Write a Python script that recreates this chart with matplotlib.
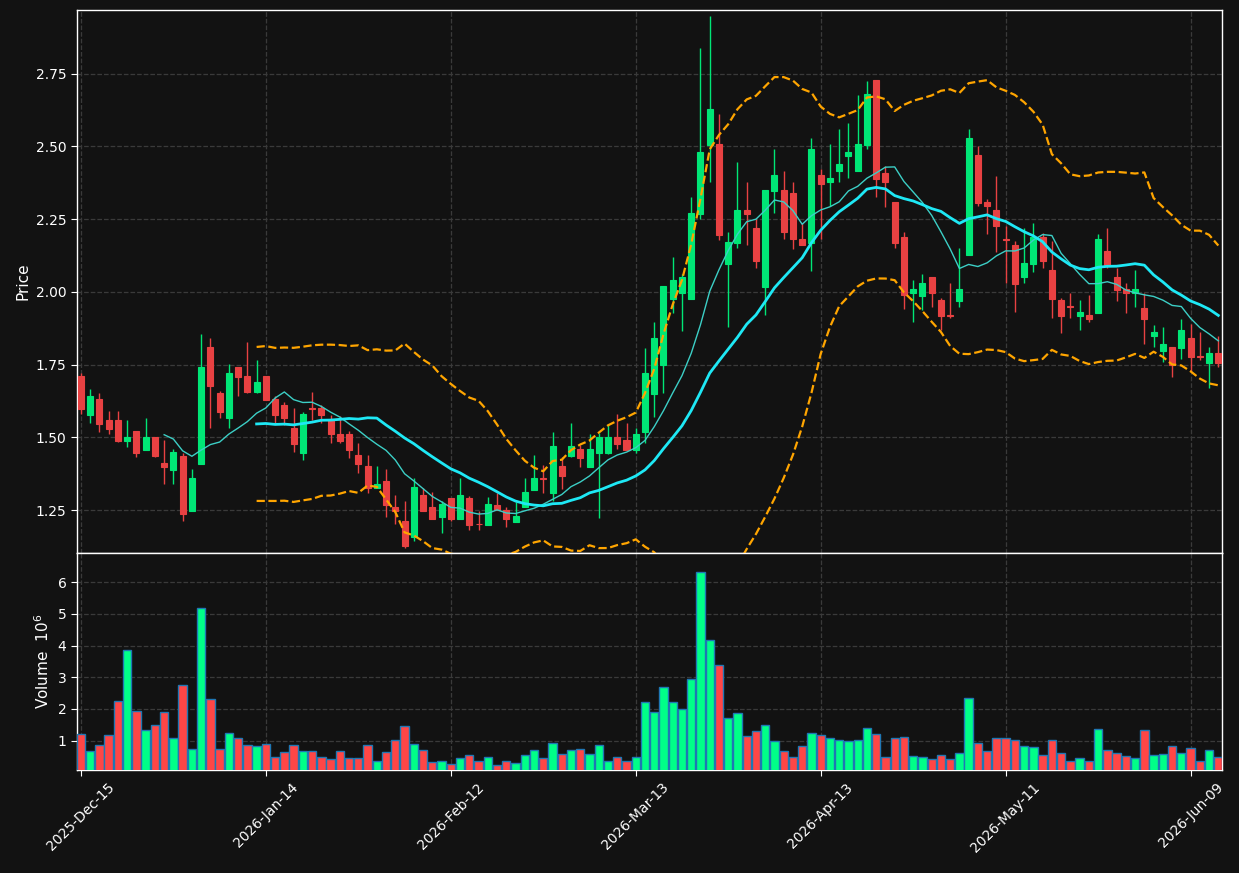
import numpy as np
import pandas as pd
import matplotlib
matplotlib.use("Agg")
import matplotlib.pyplot as plt
from matplotlib.ticker import FixedLocator, FuncFormatter

# --- data ---
holidays = ["2025-12-25", "2026-01-01", "2026-01-19", "2026-02-16", "2026-04-03", "2026-05-25"]

opens = [1.711, 1.577, 1.632, 1.559, 1.559, 1.488, 1.522, 1.457, 1.501, 1.412,
         1.389, 1.437, 1.248, 1.409, 1.809, 1.651, 1.567, 1.742, 1.711, 1.657,
         1.711, 1.631, 1.611, 1.532, 1.447, 1.600, 1.602, 1.560, 1.511, 1.511,
         1.439, 1.401, 1.327, 1.350, 1.260, 1.212, 1.158, 1.302, 1.260, 1.227,
         1.291, 1.219, 1.291, 1.203, 1.199, 1.269, 1.250, 1.210, 1.259, 1.319,
         1.360, 1.310, 1.401, 1.436, 1.459, 1.399, 1.447, 1.447, 1.501, 1.490,
         1.456, 1.519, 1.649, 1.749, 1.976, 1.997, 1.977, 2.268, 2.505, 2.509,
         2.096, 2.169, 2.282, 2.219, 2.018, 2.348, 2.349, 2.340, 2.181, 2.169,
         2.402, 2.379, 2.417, 2.468, 2.417, 2.505, 2.729, 2.408, 2.308, 2.188,
         1.997, 1.986, 2.050, 1.972, 1.921, 1.970, 2.128, 2.471, 2.308, 2.282,
         2.182, 2.161, 2.050, 2.096, 2.190, 2.075, 1.972, 1.950, 1.917, 1.921,
         1.929, 2.142, 2.052, 2.009, 1.997, 1.945, 1.848, 1.797, 1.809, 1.808,
         1.840, 1.778, 1.757, 1.789]
highs = [1.722, 1.666, 1.651, 1.590, 1.590, 1.559, 1.522, 1.565, 1.501, 1.490,
         1.459, 1.445, 1.390, 1.854, 1.840, 1.659, 1.751, 1.742, 1.829, 1.765,
         1.711, 1.642, 1.621, 1.600, 1.588, 1.657, 1.611, 1.577, 1.573, 1.522,
         1.479, 1.438, 1.401, 1.390, 1.302, 1.281, 1.359, 1.325, 1.311, 1.281,
         1.291, 1.359, 1.300, 1.248, 1.294, 1.310, 1.259, 1.279, 1.359, 1.439,
         1.405, 1.519, 1.433, 1.548, 1.474, 1.510, 1.514, 1.542, 1.579, 1.548,
         1.531, 1.806, 1.898, 2.020, 2.120, 2.060, 2.327, 2.838, 2.949, 2.611,
         2.205, 2.448, 2.379, 2.251, 2.350, 2.490, 2.417, 2.379, 2.236, 2.528,
         2.421, 2.507, 2.559, 2.580, 2.677, 2.726, 2.729, 2.433, 2.308, 2.207,
         2.041, 2.060, 2.050, 1.978, 2.029, 2.150, 2.559, 2.502, 2.318, 2.400,
         2.228, 2.176, 2.219, 2.238, 2.201, 2.176, 1.978, 1.995, 1.972, 1.989,
         2.199, 2.219, 2.081, 2.029, 2.075, 1.997, 1.886, 1.878, 1.809, 1.906,
         1.890, 1.863, 1.812, 1.849]
lows = [1.579, 1.548, 1.520, 1.510, 1.485, 1.468, 1.431, 1.457, 1.431, 1.338,
        1.338, 1.211, 1.248, 1.409, 1.531, 1.565, 1.531, 1.642, 1.651, 1.651,
        1.629, 1.550, 1.542, 1.448, 1.422, 1.560, 1.548, 1.479, 1.479, 1.430,
        1.378, 1.310, 1.327, 1.227, 1.201, 1.118, 1.145, 1.247, 1.219, 1.170,
        1.213, 1.219, 1.181, 1.183, 1.198, 1.250, 1.193, 1.210, 1.259, 1.319,
        1.310, 1.282, 1.321, 1.431, 1.399, 1.399, 1.221, 1.441, 1.459, 1.457,
        1.447, 1.482, 1.571, 1.651, 1.929, 1.866, 1.977, 2.250, 2.379, 2.180,
        1.878, 2.150, 2.161, 2.081, 1.921, 2.270, 2.181, 2.146, 2.160, 2.072,
        2.181, 2.295, 2.379, 2.391, 2.417, 2.490, 2.327, 2.293, 2.150, 1.940,
        1.898, 1.938, 1.949, 1.869, 1.909, 1.949, 2.128, 2.297, 2.198, 2.138,
        2.032, 1.932, 2.029, 2.070, 2.081, 1.909, 1.860, 1.909, 1.869, 1.898,
        1.929, 2.081, 1.970, 1.929, 1.949, 1.820, 1.812, 1.758, 1.708, 1.768,
        1.728, 1.766, 1.668, 1.741]
closes = [1.598, 1.642, 1.547, 1.530, 1.488, 1.501, 1.447, 1.501, 1.437, 1.399,
          1.449, 1.237, 1.360, 1.742, 1.678, 1.588, 1.721, 1.709, 1.657, 1.690,
          1.629, 1.578, 1.568, 1.478, 1.580, 1.597, 1.577, 1.512, 1.488, 1.456,
          1.409, 1.327, 1.339, 1.267, 1.248, 1.126, 1.329, 1.247, 1.219, 1.271,
          1.219, 1.302, 1.200, 1.201, 1.270, 1.250, 1.220, 1.229, 1.311, 1.359,
          1.358, 1.470, 1.367, 1.470, 1.430, 1.459, 1.501, 1.501, 1.478, 1.457,
          1.511, 1.720, 1.840, 2.020, 2.041, 2.052, 2.272, 2.481, 2.629, 2.196,
          2.172, 2.282, 2.268, 2.107, 2.350, 2.402, 2.207, 2.181, 2.160, 2.490,
          2.370, 2.391, 2.439, 2.480, 2.509, 2.681, 2.389, 2.379, 2.169, 1.989,
          2.009, 2.029, 1.997, 1.917, 1.918, 2.009, 2.528, 2.307, 2.297, 2.228,
          2.180, 2.027, 2.098, 2.190, 2.106, 1.977, 1.917, 1.948, 1.931, 1.908,
          2.182, 2.093, 2.007, 1.997, 2.009, 1.907, 1.862, 1.821, 1.750, 1.869,
          1.777, 1.776, 1.789, 1.757]
volumes = [1.21, 0.67, 0.86, 1.18, 2.26, 3.87, 1.94, 1.34, 1.50, 1.91,
           1.08, 2.76, 0.74, 5.20, 2.32, 0.74, 1.24, 1.08, 0.86, 0.83,
           0.89, 0.48, 0.64, 0.86, 0.67, 0.67, 0.48, 0.42, 0.67, 0.45,
           0.45, 0.86, 0.36, 0.64, 1.02, 1.46, 0.89, 0.70, 0.32, 0.36,
           0.26, 0.45, 0.55, 0.36, 0.48, 0.23, 0.36, 0.29, 0.55, 0.70,
           0.45, 0.93, 0.58, 0.70, 0.74, 0.58, 0.86, 0.36, 0.48, 0.36,
           0.48, 2.22, 1.91, 2.70, 2.22, 2.00, 2.95, 6.31, 4.19, 3.39,
           1.72, 1.88, 1.15, 1.31, 1.50, 0.99, 0.67, 0.48, 0.83, 1.24,
           1.18, 1.08, 1.02, 0.99, 1.02, 1.40, 1.21, 0.48, 1.08, 1.12,
           0.51, 0.48, 0.42, 0.55, 0.42, 0.61, 2.35, 0.93, 0.67, 1.08,
           1.08, 1.02, 0.83, 0.80, 0.55, 1.02, 0.61, 0.36, 0.45, 0.36,
           1.37, 0.70, 0.61, 0.51, 0.45, 1.34, 0.55, 0.58, 0.83, 0.61,
           0.77, 0.36, 0.70, 0.48]

dates = pd.bdate_range("2025-12-15", periods=len(closes), freq="C", holidays=holidays)

# --- styling ---
BG = "#121212"
UP = "#00e676"
DOWN = "#e84142"
VUP = "#00ff88"
VDOWN = "#ff4646"
GRID = "#3a3a3a"

o = np.array(opens)
h = np.array(highs)
l = np.array(lows)
c = np.array(closes)
v = np.array(volumes)
x = np.arange(len(c))
up = c >= o

close_s = pd.Series(c)
ma10 = close_s.rolling(10).mean()
ma20 = close_s.rolling(20).mean()
sd20 = close_s.rolling(20).std(ddof=0)
bb_up = ma20 + 2 * sd20
bb_lo = ma20 - 2 * sd20

fig = plt.figure(figsize=(12.39, 8.73), dpi=100, facecolor=BG)
ax = fig.add_axes([0.0621, 0.3671, 0.9242, 0.6214])
axv = fig.add_axes([0.0621, 0.1180, 0.9242, 0.2491], sharex=ax)

for a in (ax, axv):
    a.set_facecolor(BG)
    a.grid(True, color=GRID, linestyle="--", linewidth=0.9)
    a.set_axisbelow(True)
    for s in a.spines.values():
        s.set_color("white")
        s.set_linewidth(1.0)
    a.tick_params(colors="white", labelsize=10, length=4)

# candles
cols = np.where(up, UP, DOWN)
ax.vlines(x, l, h, colors=cols, linewidth=1.0, zorder=2)
body_lo = np.minimum(o, c)
body_h = np.abs(c - o)
ax.bar(x, body_h, bottom=body_lo, width=0.65, color=cols, edgecolor=cols,
       linewidth=0.8, zorder=3)

# moving averages and bollinger bands
ax.plot(x, ma10, color="#3ccfc6", linewidth=1.0, zorder=4)
ax.plot(x, ma20, color="#1ee8f5", linewidth=2.0, zorder=4)
ax.plot(x, bb_up, color="#ffa500", linestyle="--", linewidth=1.6, zorder=4)
ax.plot(x, bb_lo, color="#ffa500", linestyle="--", linewidth=1.6, zorder=4)

ax.set_ylim(1.104, 2.969)
ax.set_yticks([1.25, 1.50, 1.75, 2.00, 2.25, 2.50, 2.75])
ax.yaxis.set_major_formatter(FuncFormatter(lambda val, pos: f"{val:.2f}"))
ax.set_ylabel("Price", color="white", fontsize=11)
ax.tick_params(axis="x", labelbottom=False)

# volume
vcols = np.where(up, VUP, VDOWN)
axv.bar(x, v, width=0.9, color=vcols, edgecolor="#1f77b4", linewidth=1.0, zorder=3)
axv.set_ylim(0.3 * v.min(), 1.1 * v.max())
axv.set_yticks([1, 2, 3, 4, 5, 6])
axv.set_ylabel("Volume  $10^{6}$", color="white", fontsize=11)

axv.set_xlim(-0.43, 123.4)
ticks = list(range(0, len(c), 20))
axv.xaxis.set_major_locator(FixedLocator(ticks))
axv.xaxis.set_major_formatter(
    FuncFormatter(lambda val, pos: dates[int(round(val))].strftime("%Y-%b-%d")
                  if 0 <= int(round(val)) < len(dates) else ""))
for lab in axv.get_xticklabels():
    lab.set_rotation(45)
    lab.set_ha("center")

fig.savefig("out.png", dpi=100, facecolor=BG)
